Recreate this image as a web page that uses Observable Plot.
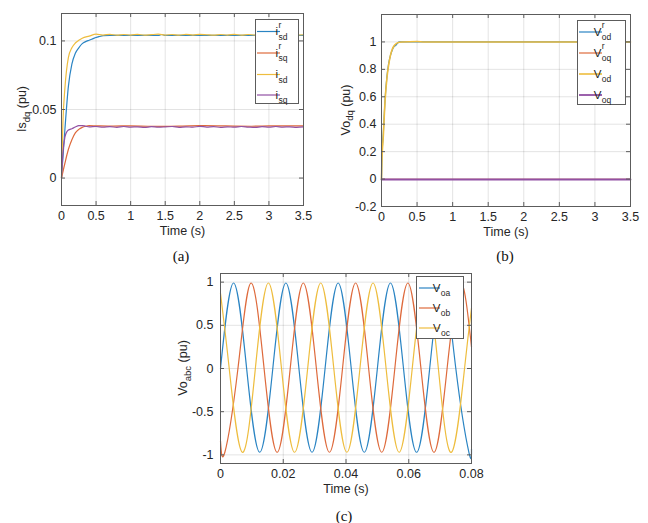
<!DOCTYPE html>
<html><head><meta charset="utf-8">
<script src="https://cdn.jsdelivr.net/npm/d3@7"></script>
<script src="https://cdn.jsdelivr.net/npm/@observablehq/plot@0.6"></script>
<style>
html,body{margin:0;padding:0;background:#fff;}
#wrap{position:relative;width:648px;height:523px;overflow:hidden;background:#fff;}
#wrap svg{position:absolute;}
.cap{position:absolute;font-family:"Liberation Serif","Times New Roman",serif;font-size:15px;line-height:1;color:#111;transform:translate(-50%,-50%);white-space:nowrap;}
</style></head><body><div id="wrap"></div>
<script>
// ---------------- DATA ----------------
// Panel (a): stator currents (pu) vs time (s)
const aTicksX = [0, 0.5, 1, 1.5, 2, 2.5, 3, 3.5];
const aTicksY = [0, 0.05, 0.1];
const aTimeIsdRef = [0, 0.03, 0.05, 0.1, 0.15, 0.2, 0.25, 0.3, 0.35, 0.4, 0.45, 0.5, 0.55, 0.6, 0.7, 1.0, 1.4, 1.45, 1.5, 2.0, 2.5, 3.0, 3.5];
const aIsdRef = [0, 0.022, 0.036, 0.067, 0.083, 0.091, 0.095, 0.098, 0.0995, 0.1005, 0.1015, 0.1025, 0.1032, 0.1038, 0.104, 0.104, 0.104, 0.1047, 0.104, 0.104, 0.104, 0.104, 0.104];
const aTimeIsqRef = [0, 0.05, 0.1, 0.15, 0.2, 0.25, 0.3, 0.35, 0.4, 0.5, 0.75, 1.0, 1.25, 1.5, 1.75, 2.0, 2.25, 2.5, 2.75, 3.0, 3.25, 3.5];
const aIsqRef = [0, 0.011, 0.021, 0.028, 0.033, 0.0355, 0.037, 0.0378, 0.0382, 0.0381, 0.0379, 0.0381, 0.0378, 0.0377, 0.0379, 0.0382, 0.0381, 0.0379, 0.0378, 0.038, 0.0381, 0.038];
const aTimeIsd = [0, 0.02, 0.05, 0.1, 0.15, 0.2, 0.25, 0.3, 0.4, 0.5, 0.6, 0.7, 0.8, 0.9, 1.0, 1.1, 1.2, 1.3, 1.4, 1.5, 1.6, 1.7, 1.8, 1.9, 2.0, 2.1, 2.2, 2.3, 2.4, 2.5, 2.6, 2.7, 2.8, 2.9, 3.0, 3.1, 3.2, 3.3, 3.4, 3.5];
const aIsd = [0, 0.04, 0.066, 0.088, 0.095, 0.0985, 0.1005, 0.102, 0.1035, 0.1049, 0.1043, 0.1048, 0.1042, 0.1047, 0.1043, 0.1048, 0.1042, 0.1046, 0.1049, 0.1043, 0.1047, 0.1042, 0.1048, 0.1043, 0.1048, 0.1045, 0.1042, 0.1047, 0.1043, 0.1048, 0.1042, 0.1047, 0.1043, 0.1046, 0.1042, 0.1047, 0.1043, 0.1048, 0.1042, 0.1045];
const aTimeIsq = [0, 0.02, 0.05, 0.08, 0.1, 0.15, 0.2, 0.25, 0.3, 0.35, 0.4, 0.5, 0.6, 0.7, 0.8, 0.9, 1.0, 1.1, 1.2, 1.3, 1.4, 1.5, 1.6, 1.7, 1.8, 1.9, 2.0, 2.1, 2.2, 2.3, 2.4, 2.5, 2.6, 2.7, 2.8, 2.9, 3.0, 3.1, 3.2, 3.3, 3.4, 3.5];
const aIsq = [0, 0.018, 0.03, 0.034, 0.035, 0.036, 0.0372, 0.0382, 0.0383, 0.0378, 0.0373, 0.0376, 0.0371, 0.0375, 0.037, 0.0376, 0.0372, 0.0374, 0.0369, 0.0375, 0.0371, 0.0373, 0.0376, 0.037, 0.0374, 0.0371, 0.0377, 0.0372, 0.0375, 0.037, 0.0374, 0.0371, 0.0376, 0.0372, 0.0369, 0.0375, 0.0371, 0.0376, 0.0372, 0.0374, 0.037, 0.0373];

// Panel (b): output voltages dq (pu) vs time (s)
const bTicksX = [0, 0.5, 1, 1.5, 2, 2.5, 3, 3.5];
const bTicksY = [-0.2, 0, 0.2, 0.4, 0.6, 0.8, 1];
const bTimeVodRef = [0, 0.005, 0.025, 0.05, 0.075, 0.1, 0.125, 0.15, 0.175, 0.2, 0.225, 0.25, 0.3, 3.5];
const bVodRef = [0, 0.15, 0.33, 0.58, 0.74, 0.84, 0.9, 0.94, 0.965, 0.975, 0.99, 1.0, 1.0, 1.0];
const bTimeVoqRef = [0, 3.5];
const bVoqRef = [-0.002, -0.002];
const bTimeVod = [0, 0.005, 0.025, 0.05, 0.075, 0.1, 0.125, 0.15, 0.175, 0.2, 0.25, 0.3, 0.5, 0.6, 3.5];
const bVod = [0, 0.12, 0.31, 0.57, 0.73, 0.83, 0.9, 0.945, 0.97, 0.985, 0.998, 1.0, 1.003, 1.0, 1.0];
const bTimeVoq = [0, 3.5];
const bVoq = [-0.003, -0.003];

// Panel (c): output voltages abc (pu) vs time (s)
const cTicksX = [0, 0.02, 0.04, 0.06, 0.08];
const cTicksY = [-1, -0.5, 0, 0.5, 1];
const cTimeVoa = [0, 0.00417, 0.00833, 0.0125, 0.01667, 0.02083, 0.025, 0.02917, 0.03333, 0.0375, 0.04167, 0.04583, 0.05, 0.05417, 0.05833, 0.0625, 0.06667, 0.07083, 0.075, 0.07917, 0.08];
const cVoa = [0, 0.99, 0, -0.97, 0, 0.99, 0, -0.97, 0, 0.99, 0, -0.97, 0, 0.99, 0, -0.97, 0, 0.99, 0, -0.97, -0.93];
const cTimeVob = [0, 0.00139, 0.00556, 0.00972, 0.01389, 0.01806, 0.02222, 0.02639, 0.03056, 0.03472, 0.03889, 0.04306, 0.04722, 0.05139, 0.05556, 0.05972, 0.06389, 0.06806, 0.07222, 0.07639, 0.08];
const cVob = [-0.84, -0.97, 0, 0.99, 0, -0.97, 0, 0.99, 0, -0.97, 0, 0.99, 0, -0.97, 0, 0.99, 0, -0.97, 0, 0.99, 0.25];
const cTimeVoc = [0, 0.00278, 0.00694, 0.01111, 0.01528, 0.01944, 0.02361, 0.02778, 0.03194, 0.03611, 0.04028, 0.04444, 0.04861, 0.05278, 0.05694, 0.06111, 0.06528, 0.06944, 0.07361, 0.07778, 0.08];
const cVoc = [0.87, 0, -0.97, 0, 0.99, 0, -0.97, 0, 0.99, 0, -0.97, 0, 0.99, 0, -0.97, 0, 0.99, 0, -0.97, 0, 0.7];

// ---------------- STYLE ----------------
const FONT = '"Liberation Sans", Arial, Helvetica, sans-serif';
const FRAME = "#5c5c5c";
const TEXT = "#262626";
const BLUE = "#2a84c3", RED = "#de6a3c", YEL = "#eebd3e", PUR = "#9150a3";
const TICK = 4;

const wrap = document.getElementById("wrap");
const rows = (t, v) => t.map((x, i) => ({t: x, v: v[i]}));

function buildPanel(cfg) {
  const {width, height, ml, mr, mt, mb} = cfg;
  const iw = width - ml - mr, ih = height - mt - mb;
  const marks = [
    Plot.gridX(cfg.xTicks, {stroke: "#000", strokeOpacity: 0.11}),
    Plot.gridY(cfg.yTicks, {stroke: "#000", strokeOpacity: 0.11}),
    ...cfg.series.map(s => Plot.line(rows(s.t, s.v), {x: "t", y: "v", stroke: s.color, strokeWidth: s.w, curve: cfg.curve})),
    Plot.tickX(cfg.xTicks, {x: d => d, insetTop: ih - TICK, stroke: FRAME}),
    Plot.tickX(cfg.xTicks, {x: d => d, insetBottom: ih - TICK, stroke: FRAME}),
    Plot.tickY(cfg.yTicks, {y: d => d, insetRight: iw - TICK, stroke: FRAME}),
    Plot.tickY(cfg.yTicks, {y: d => d, insetLeft: iw - TICK, stroke: FRAME}),
    Plot.frame({stroke: FRAME}),
    Plot.axisX(cfg.xTicks, {tickSize: 0, tickPadding: 6, tickFormat: String, label: null, fill: TEXT}),
    Plot.axisY(cfg.yTicks, {tickSize: 0, tickPadding: cfg.yPad, tickFormat: String, label: null, fill: TEXT}),
    Plot.text(["Time (s)"], {text: d => d, frameAnchor: "bottom", dy: 29, fill: TEXT, fontSize: 12.5})
  ];
  const svg = Plot.plot({
    width, height, marginLeft: ml, marginRight: mr, marginTop: mt, marginBottom: mb,
    x: {domain: cfg.xDomain, label: null},
    y: {domain: cfg.yDomain, label: null},
    style: {fontFamily: FONT, fontSize: "12.5px", color: TEXT, background: "transparent", overflow: "visible"},
    marks
  });
  svg.style.left = cfg.left + "px";
  svg.style.top = cfg.top + "px";
  wrap.appendChild(svg);
  const g = d3.select(svg);

  // y-axis label with subscript
  const yl = g.append("text")
    .attr("transform", `translate(${cfg.yLabelX},${mt + ih / 2}) rotate(-90)`)
    .attr("text-anchor", "middle").attr("fill", TEXT)
    .style("font-family", FONT).style("font-size", "12.5px");
  yl.append("tspan").text(cfg.yMain);
  yl.append("tspan").attr("dy", 3.5).style("font-size", "9.5px").text(cfg.ySub);
  yl.append("tspan").attr("dy", -3.5).text(" (pu)");

  // legend
  const L = cfg.legend;
  const lg = g.append("g");
  lg.append("rect").attr("x", L.box[0] + 0.5).attr("y", L.box[1] + 0.5)
    .attr("width", L.box[2] - L.box[0]).attr("height", L.box[3] - L.box[1])
    .attr("fill", "#fff").attr("stroke", FRAME);
  L.items.forEach((it, i) => {
    const cy = L.cys[i];
    lg.append("line").attr("x1", L.line[0]).attr("x2", L.line[1]).attr("y1", cy).attr("y2", cy)
      .attr("stroke", it.color).attr("stroke-width", it.lw);
    const t = lg.append("text").attr("x", L.textX).attr("y", cy + 3.5).attr("fill", TEXT)
      .style("font-family", FONT).style("font-size", "11.5px");
    t.append("tspan").text(it.main);
    if (it.sup) {
      const s = t.append("tspan").attr("dx", 0.5).attr("dy", -7.5).style("font-size", "8.5px").text(it.sup);
      const sw = s.node().getComputedTextLength();
      t.append("tspan").attr("dx", -sw).attr("dy", 12).style("font-size", "8.5px").text(it.sub);
    } else {
      t.append("tspan").attr("dx", 0.5).attr("dy", 4.5).style("font-size", "8.5px").text(it.sub);
    }
  });
}

// Panel (a)
buildPanel({
  left: 0, top: 0, width: 324, height: 265, ml: 61, mr: 21, mt: 13, mb: 60, yPad: 5,
  xDomain: [0, 3.5], yDomain: [-0.02, 0.12], xTicks: aTicksX, yTicks: aTicksY, curve: "monotone-x",
  series: [
    {t: aTimeIsdRef, v: aIsdRef, color: BLUE, w: 1.2},
    {t: aTimeIsqRef, v: aIsqRef, color: RED, w: 1.2},
    {t: aTimeIsd, v: aIsd, color: YEL, w: 1.2},
    {t: aTimeIsq, v: aIsq, color: PUR, w: 1.2}
  ],
  yLabelX: 26, yMain: "Is", ySub: "dq",
  legend: {
    box: [255, 19, 298, 103], line: [257, 280], textX: 281.5, cys: [31.5, 53, 74.5, 95],
    items: [
      {color: BLUE, lw: 1.2, main: "i", sup: "r", sub: "sd"},
      {color: RED, lw: 1.2, main: "i", sup: "r", sub: "sq"},
      {color: YEL, lw: 1.2, main: "i", sub: "sd"},
      {color: PUR, lw: 1.2, main: "i", sub: "sq"}
    ]
  }
});

// Panel (b)
buildPanel({
  left: 324, top: 0, width: 324, height: 265, ml: 57, mr: 18, mt: 14, mb: 59, yPad: 5,
  xDomain: [0, 3.5], yDomain: [-0.2, 1.2], xTicks: bTicksX, yTicks: bTicksY, curve: "monotone-x",
  series: [
    {t: bTimeVodRef, v: bVodRef, color: BLUE, w: 1.2},
    {t: bTimeVoqRef, v: bVoqRef, color: RED, w: 1.2},
    {t: bTimeVod, v: bVod, color: YEL, w: 1.6},
    {t: bTimeVoq, v: bVoq, color: PUR, w: 1.8}
  ],
  yLabelX: 25.5, yMain: "Vo", ySub: "dq",
  legend: {
    box: [253, 20, 301, 104], line: [255, 278], textX: 278.5, cys: [32, 53, 74, 95],
    items: [
      {color: BLUE, lw: 1.2, main: "V", sup: "r", sub: "od"},
      {color: RED, lw: 1.2, main: "V", sup: "r", sub: "oq"},
      {color: YEL, lw: 1.6, main: "V", sub: "od"},
      {color: PUR, lw: 1.8, main: "V", sub: "oq"}
    ]
  }
});

// Panel (c)
buildPanel({
  left: 0, top: 265, width: 648, height: 258, ml: 220, mr: 177, mt: 8, mb: 60, yPad: 7,
  xDomain: [0, 0.08], yDomain: [-1.1, 1.1], xTicks: cTicksX, yTicks: cTicksY, curve: "natural",
  series: [
    {t: cTimeVoa, v: cVoa, color: BLUE, w: 1.2},
    {t: cTimeVob, v: cVob, color: RED, w: 1.2},
    {t: cTimeVoc, v: cVoc, color: YEL, w: 1.2}
  ],
  yLabelX: 187, yMain: "Vo", ySub: "abc",
  legend: {
    box: [416, 11, 463, 73], line: [419, 440], textX: 441.5, cys: [23, 43, 63],
    items: [
      {color: BLUE, lw: 1.2, main: "V", sub: "oa"},
      {color: RED, lw: 1.2, main: "V", sub: "ob"},
      {color: YEL, lw: 1.2, main: "V", sub: "oc"}
    ]
  }
});

// sub-figure captions
[["(a)", 181, 256], ["(b)", 505, 256], ["(c)", 344, 516]].forEach(([t, x, y]) => {
  const d = document.createElement("div");
  d.className = "cap"; d.textContent = t;
  d.style.left = x + "px"; d.style.top = y + "px";
  wrap.appendChild(d);
});
</script></body></html>
